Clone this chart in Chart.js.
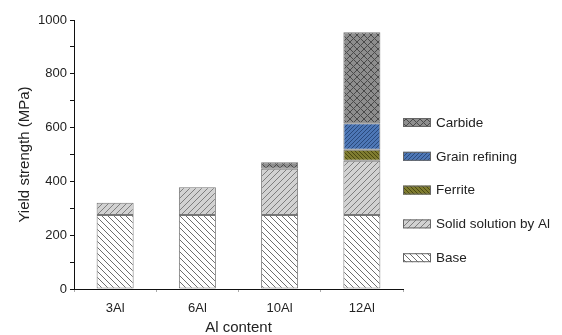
<!DOCTYPE html>
<html>
<head>
<meta charset="utf-8">
<script src="https://cdn.jsdelivr.net/npm/chart.js@4"></script>
<style>
html,body{margin:0;padding:0;background:#fff}
#wrap{width:562px;height:335px}
</style>
</head>
<body>
<div id="wrap"><canvas id="yieldChart" width="562" height="335"></canvas></div>
<script>

// DATA

const categories = ['3Al','6Al','10Al','12Al']
const baseVals = [275,275,275,275]
const solidVals = [46,103,172,202]
const ferriteVals = [null,null,null,41]
const grainVals = [null,null,null,98]
const carbideVals = [null,null,24,338]
const yTicks = [0,200,400,600,800,1000]

// PATTERNS

function hatch(bg, fg, size, dir){
let c = document.createElement('canvas')
c.width = size
c.height = size
let g = c.getContext('2d')
g.fillStyle = bg
g.fillRect(0,0,size,size)
g.strokeStyle = fg
g.lineWidth = 1
function line(up){
for(let k=-1;k<=1;k++){
g.beginPath()
if(up){
g.moveTo(k*size, size)
g.lineTo(k*size+size, 0)
}else{
g.moveTo(k*size, 0)
g.lineTo(k*size+size, size)
}
g.stroke()
}
}
if(dir==='/'||dir==='x') line(true)
if(dir==='\\'||dir==='x') line(false)
return g.createPattern(c,'repeat')
}

const ctx = document.getElementById('yieldChart')

const fills = {
base: hatch('#ffffff','#6e6e6e',6,'\\'),
solid: hatch('#d2d2d2','#7e7e7e',6,'/'),
ferrite: hatch('#7f7c30','#4a4812',4,'\\'),
grain: hatch('#4d77b6','#2a4a7c',4,'/'),
carbide: hatch('#8e8e8e','#4a4a4a',7,'x')
}

// LEGEND (drawn by hand, reversed order like the original)

const sideLegend = {
id:'sideLegend',
afterDraw(chart){
let g = chart.ctx
let sets = chart.data.datasets.slice().reverse()
let top = 122.5
g.save()
g.font = '13.5px "Liberation Sans", Arial, sans-serif'
g.textBaseline = 'middle'
for(let i=0;i<sets.length;i++){
let y = top + i*33.8
g.fillStyle = sets[i].backgroundColor
g.fillRect(403, y-4.5, 28, 9)
g.strokeStyle = '#666'
g.lineWidth = 1
g.strokeRect(403.5, y-4, 27, 8)
g.fillStyle = '#222'
g.fillText(sets[i].label, 436, y+0.5)
}
g.restore()
}
}

const font = {family:'"Liberation Sans", Arial, sans-serif', size:13}

function ds(label, data, fill){
return {
label: label,
data: data,
backgroundColor: fill,
borderColor: '#767676',
borderWidth: 1,
borderSkipped: false,
barPercentage: 0.45,
categoryPercentage: 1
}
}

new Chart(ctx, {

type: 'bar',

data: {
labels: categories,
datasets: [
ds('Base', baseVals, fills.base),
ds('Solid solution by Al', solidVals, fills.solid),
ds('Ferrite', ferriteVals, fills.ferrite),
ds('Grain refining', grainVals, fills.grain),
ds('Carbide', carbideVals, fills.carbide)
]
},

options: {
responsive:false,
animation:false,
layout:{padding:{left:0, top:20, right:159, bottom:0}},
plugins:{
legend:{display:false},
tooltip:{enabled:false}
},
scales:{
x:{
stacked:true,
afterFit(s){ s.height = 46 },
border:{color:'#111', width:1},
grid:{offset:true, drawOnChartArea:false, tickLength:3, color:'#aaa'},
ticks:{color:'#222', font:font, padding:9},
title:{display:true, text:'Al content', color:'#222', font:{family:font.family, size:15}, padding:{top:0, bottom:-2}}
},
y:{
stacked:true,
min:0,
max:1000,
afterFit(s){ s.width = 74 },
afterBuildTicks(s){ s.ticks = [] ; for(let v=0;v<=1000;v+=100) s.ticks.push({value:v}) },
border:{color:'#111', width:1},
grid:{drawOnChartArea:false, tickLength:4, color:'#111'},
ticks:{
color:'#222', font:font, padding:3,
callback(v){ return yTicks.includes(v) ? String(v) : '' }
},
title:{display:true, text:'Yield strength (MPa)', color:'#222', font:{family:font.family, size:15}, padding:{top:16, bottom:0}}
}
}
},

plugins:[sideLegend]

})

</script>
</body>
</html>
